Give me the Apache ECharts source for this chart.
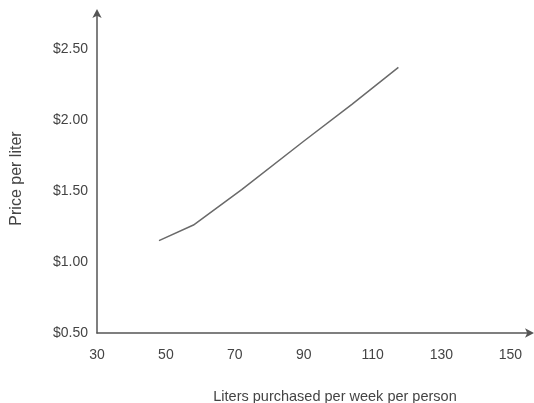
<!DOCTYPE html>
<html>
<head>
<meta charset="utf-8">
<script src="https://cdn.jsdelivr.net/npm/echarts@6/dist/echarts.min.js"></script>
<style>
html,body{margin:0;padding:0;background:#fff;}
#c{width:534px;height:403px;}
</style>
</head>
<body>
<div id="c"></div>
<script>
var litersPerWeek = [48, 58, 72, 90, 104, 117.5];
var pricePerLiter = [1.15, 1.26, 1.51, 1.85, 2.11, 2.37];
var xTickLabels = [30, 50, 70, 90, 110, 130, 150];
var yTickLabels = [0.5, 1.0, 1.5, 2.0, 2.5];
var xAxisTitle = 'Liters purchased per week per person';
var yAxisTitle = 'Price per liter';

var points = litersPerWeek.map(function (x, i) { return [x, pricePerLiter[i]]; });
var font = 'Arial, "Liberation Sans", Helvetica, sans-serif';

var chart = echarts.init(document.getElementById('c'), null, {renderer: 'canvas'});
chart.setOption({
  animation: false,
  backgroundColor: '#ffffff',
  grid: {left: 97, right: 3, top: 12, bottom: 70, containLabel: false, outerBoundsMode: 'none'},
  xAxis: {
    type: 'value',
    min: 30,
    max: 156,
    interval: 20,
    name: xAxisTitle,
    nameLocation: 'middle',
    nameGap: 56,
    nameTextStyle: {color: '#444', fontSize: 14.5, fontFamily: font, padding: [0, 0, 0, 42]},
    axisLine: {show: true, lineStyle: {color: '#555', width: 1.5}, symbol: ['none', 'arrow'], symbolSize: [7, 9], symbolOffset: [0, 3]},
    axisTick: {show: false},
    splitLine: {show: false},
    axisLabel: {
      color: '#444', fontSize: 14, fontFamily: font, margin: 15,
      showMaxLabel: false,
      formatter: function (v) { return xTickLabels.indexOf(v) >= 0 ? String(v) : ''; }
    }
  },
  yAxis: {
    type: 'value',
    min: 0.5,
    max: 2.76,
    interval: 0.5,
    name: yAxisTitle,
    nameLocation: 'middle',
    nameRotate: 90,
    nameGap: 72,
    nameTextStyle: {color: '#444', fontSize: 16, fontFamily: font, padding: [0, 12, 0, 0]},
    axisLine: {show: true, lineStyle: {color: '#555', width: 1.5}, symbol: ['none', 'arrow'], symbolSize: [7, 9], symbolOffset: [0, 3]},
    axisTick: {show: false},
    splitLine: {show: false},
    axisLabel: {
      color: '#444', fontSize: 14, fontFamily: font, margin: 9,
      showMaxLabel: false,
      formatter: function (v) {
        var hit = yTickLabels.some(function (t) { return Math.abs(t - v) < 1e-9; });
        return hit ? '$' + v.toFixed(2) : '';
      }
    }
  },
  series: [{
    type: 'line',
    data: points,
    showSymbol: false,
    smooth: false,
    lineStyle: {color: '#6a6a6a', width: 1.5},
    silent: true
  }]
});
</script>
</body>
</html>
